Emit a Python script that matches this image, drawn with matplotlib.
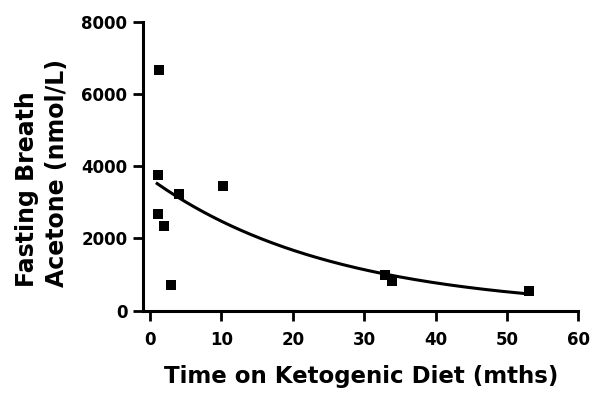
import numpy as np
import matplotlib
matplotlib.use("Agg")
import matplotlib.pyplot as plt

plt.rcParams['font.family'] = ['DejaVu Sans']
plt.rcParams['font.weight'] = 'bold'

# Data
months = [1.2, 1.1, 4.1, 10.2, 1.1, 2.0, 3.0, 32.9, 33.9, 53.1]
acetone = [6670, 3770, 3220, 3450, 2680, 2330, 710, 990, 830, 550]

# One-phase exponential decay fit parameters
fit_y0 = 3660
fit_k = 0.0391
fit_xrange = [1.0, 53.0]

xticks = [0, 10, 20, 30, 40, 50, 60]
yticks = [0, 2000, 4000, 6000, 8000]

fig = plt.figure(figsize=(5.92, 3.94), dpi=100)
ax = fig.add_axes([143.3/592, 83.5/394, 435/592, 288.5/394])

ax.scatter(months, acetone, marker='s', s=42, color='black', zorder=3, linewidths=0)
xf = np.linspace(fit_xrange[0], fit_xrange[1], 200)
ax.plot(xf, fit_y0 * np.exp(-fit_k * xf), color='black', lw=2.2)

ax.set_xlim(-0.94, 60)
ax.set_ylim(0, 8000)
ax.set_xticks(xticks)
ax.set_yticks(yticks)
for s in ['top', 'right']:
    ax.spines[s].set_visible(False)
for s in ['left', 'bottom']:
    ax.spines[s].set_linewidth(2.2)
ax.tick_params(axis='both', width=2.0, length=7.5, labelsize=12)
ax.tick_params(axis='x', pad=7.5)
ax.tick_params(axis='y', pad=4)
for lbl in ax.get_xticklabels() + ax.get_yticklabels():
    lbl.set_fontweight('bold')

ax.set_xlabel('Time on Ketogenic Diet (mths)', fontsize=16.5, fontweight='bold')
ax.xaxis.set_label_coords(0.5, -0.19)
ax.set_ylabel('Fasting Breath\nAcetone (nmol/L)', fontsize=17, fontweight='bold',
              linespacing=1.3, multialignment='left')
ax.yaxis.set_label_coords(-0.171, 0.477)

fig.savefig('out.png', dpi=100)
